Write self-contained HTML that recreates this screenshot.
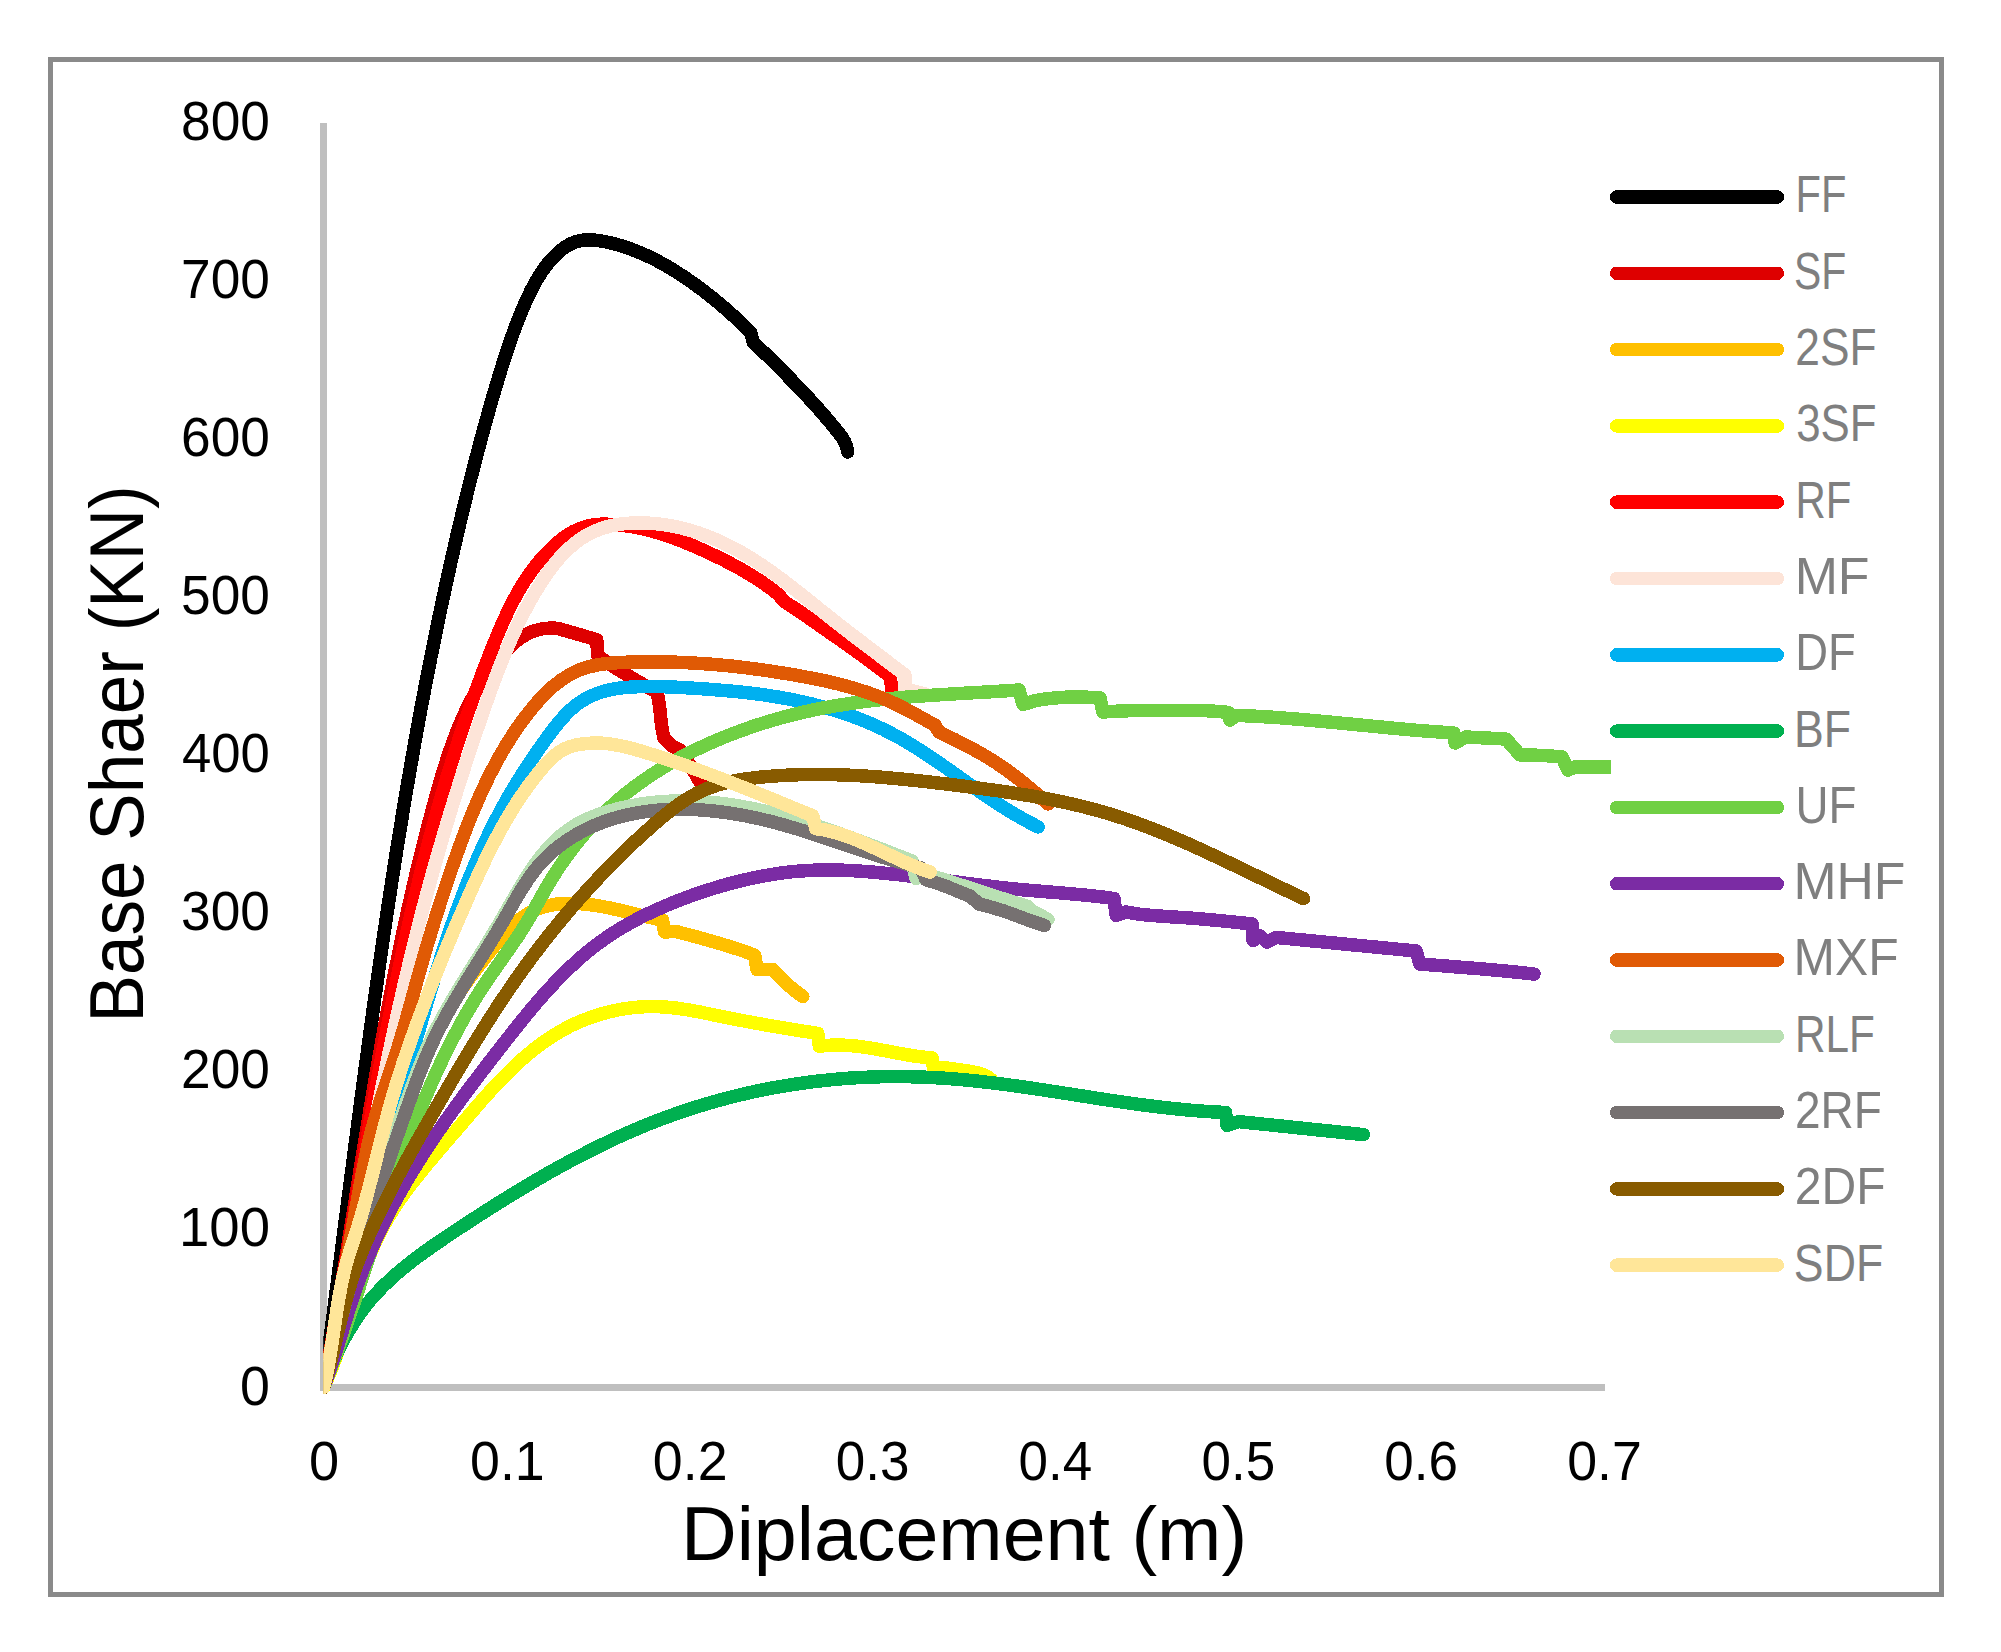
<!DOCTYPE html>
<html lang="en"><head><meta charset="utf-8"><title>Base Shaer (KN) - Diplacement (m)</title>
<style>
html,body{margin:0;padding:0;background:#fff}
svg{display:block}
text{font-family:"Liberation Sans",sans-serif}
.tick{font-size:55px;fill:#000}
.leg{font-size:51px;fill:#7f7f7f}
.ttl{font-size:76px;fill:#000}
.c{fill:none;stroke-width:13.5;stroke-linecap:round;stroke-linejoin:round}
</style></head>
<body>
<svg width="2001" height="1652" viewBox="0 0 2001 1652">
<rect x="0" y="0" width="2001" height="1652" fill="#fff"/>
<rect x="50.5" y="59.5" width="1891" height="1535" fill="none" stroke="#8a8a8a" stroke-width="5"/>
<rect x="320" y="123" width="7" height="1268" fill="#bfbfbf"/>
<rect x="320" y="1384" width="1285" height="7" fill="#bfbfbf"/>
<defs><clipPath id="pc"><rect x="323.2" y="100" width="1287.8" height="1300"/></clipPath></defs>
<g clip-path="url(#pc)" shape-rendering="crispEdges">
<path class="c" stroke="#000000" d="M323.5 1387.5C324.5 1380.3 325.4 1373.2 326.4 1366.0C327.3 1358.8 328.3 1351.6 329.2 1344.5C330.2 1337.3 331.1 1330.1 332.1 1322.9C333.0 1315.8 333.9 1308.6 334.9 1301.4C335.8 1294.2 336.7 1287.0 337.7 1279.9C338.6 1272.7 339.5 1265.5 340.5 1258.3C341.4 1251.1 342.3 1244.0 343.2 1236.8C344.2 1229.6 345.1 1222.4 346.0 1215.2C346.9 1208.0 347.9 1200.9 348.8 1193.7C349.7 1186.5 350.6 1179.3 351.6 1172.1C352.5 1165.0 353.4 1157.8 354.4 1150.6C355.3 1143.4 356.2 1136.2 357.2 1129.0C358.1 1121.9 359.1 1114.7 360.0 1107.5C360.9 1100.3 361.9 1093.1 362.8 1086.0C363.8 1078.8 364.8 1071.6 365.7 1064.4C366.7 1057.3 367.7 1050.1 368.6 1042.9C369.6 1035.7 370.6 1028.5 371.6 1021.4C372.5 1014.2 373.5 1007.0 374.5 999.9C375.5 992.7 376.5 985.5 377.6 978.3C378.6 971.2 379.6 964.0 380.6 956.8C381.7 949.7 382.7 942.5 383.7 935.3C384.8 928.2 385.9 921.0 386.9 913.9C388.0 906.7 389.1 899.5 390.2 892.4C391.2 885.2 392.3 878.1 393.5 870.9C394.6 863.8 395.7 856.6 396.8 849.5C398.0 842.3 399.1 835.2 400.3 828.0C401.4 820.9 402.6 813.8 403.8 806.6C405.0 799.5 406.2 792.3 407.4 785.2C408.6 778.1 409.8 770.9 411.1 763.8C412.3 756.7 413.6 749.5 414.8 742.4C416.1 735.3 417.4 728.2 418.7 721.1C420.0 713.9 421.3 706.8 422.7 699.7C424.0 692.6 425.3 685.5 426.7 678.4C428.1 671.3 429.5 664.2 430.9 657.1C432.3 650.0 433.7 642.9 435.2 635.8C436.6 628.7 438.1 621.6 439.6 614.5C441.0 607.4 442.5 600.4 444.1 593.3C445.6 586.2 447.1 579.1 448.7 572.1C450.3 565.0 451.8 557.9 453.5 550.9C455.1 543.8 456.7 536.7 458.3 529.7C460.0 522.6 461.7 515.6 463.4 508.5C465.1 501.5 466.8 494.4 468.5 487.4C470.3 480.4 472.1 473.3 473.9 466.3C475.7 459.3 477.5 452.3 479.4 445.3C481.2 438.3 483.1 431.3 485.1 424.3C487.0 417.3 489.0 410.4 490.9 403.4C492.9 396.5 495.0 389.5 497.1 382.6C499.1 375.7 501.2 368.8 503.4 361.9C505.6 355.0 507.8 348.1 510.2 341.3C512.6 334.5 515.1 327.7 517.7 320.9C520.3 314.2 523.1 307.5 526.1 300.9C529.1 294.3 532.3 287.7 535.9 281.3C539.5 275.0 543.5 268.9 548.0 263.3C552.6 257.7 557.8 252.4 563.8 248.0C569.7 243.7 576.3 240.9 583.3 240.2C590.2 239.4 597.5 240.1 604.7 241.6C611.9 243.0 619.0 244.9 625.9 247.2C632.7 249.6 639.5 252.3 646.1 255.3C652.7 258.3 659.1 261.7 665.4 265.3C671.7 268.9 677.9 272.8 683.9 276.8C689.9 280.8 695.8 285.0 701.6 289.3C707.3 293.7 712.9 298.2 718.5 302.8C724.0 307.4 729.4 312.2 734.8 317.1C740.1 322.0 745.3 327.0 750.5 332.2L753.2 342.0C758.4 347.1 763.6 352.1 768.8 357.2C774.0 362.3 779.1 367.4 784.2 372.6C789.3 377.7 794.4 383.0 799.4 388.2C804.4 393.5 809.4 398.8 814.3 404.2C819.1 409.6 823.9 415.0 828.6 420.6C833.3 426.1 837.8 431.8 842.3 437.5C843.8 439.9 845.1 442.4 846.0 445.0C846.7 447.2 847.4 449.6 847.7 452.0"/>
<path class="c" stroke="#DE0000" d="M323.5 1387.5C324.8 1380.4 326.1 1373.2 327.4 1366.1C328.7 1359.0 330.0 1351.9 331.2 1344.7C332.5 1337.6 333.7 1330.5 334.9 1323.3C336.1 1316.2 337.4 1309.1 338.6 1302.0C339.8 1294.8 340.9 1287.7 342.1 1280.6C343.3 1273.4 344.5 1266.3 345.7 1259.2C346.8 1252.1 348.0 1244.9 349.1 1237.8C350.3 1230.7 351.5 1223.5 352.6 1216.4C353.8 1209.3 354.9 1202.2 356.1 1195.0C357.2 1187.9 358.4 1180.8 359.5 1173.7C360.7 1166.6 361.8 1159.4 363.0 1152.3C364.1 1145.2 365.3 1138.1 366.5 1131.0C367.7 1123.8 368.8 1116.7 370.0 1109.6C371.2 1102.5 372.4 1095.4 373.6 1088.3C374.8 1081.2 376.1 1074.1 377.3 1067.0C378.5 1059.8 379.8 1052.7 381.1 1045.6C382.3 1038.5 383.6 1031.4 384.9 1024.3C386.2 1017.3 387.5 1010.2 388.9 1003.1C390.2 996.0 391.6 988.9 392.9 981.8C394.3 974.7 395.7 967.6 397.2 960.6C398.6 953.5 400.0 946.4 401.5 939.3C403.0 932.2 404.5 925.2 406.1 918.1C407.6 911.0 409.2 904.0 410.8 896.9C412.4 889.9 414.0 882.8 415.6 875.8C417.3 868.7 419.0 861.7 420.7 854.6C422.5 847.6 424.2 840.5 426.1 833.5C427.9 826.5 429.7 819.4 431.6 812.4C433.5 805.4 435.4 798.3 437.4 791.3C439.3 784.3 441.4 777.3 443.5 770.4C445.6 763.4 447.9 756.5 450.2 749.7C452.6 742.8 455.1 736.0 457.8 729.4C460.5 722.7 463.3 716.1 466.4 709.7C469.5 703.2 472.8 696.9 476.4 690.7C479.9 684.6 483.8 678.5 487.9 672.7C492.0 666.9 496.5 661.2 501.3 655.8C506.0 650.3 511.2 645.1 516.8 640.7C522.4 636.3 528.6 632.7 535.4 630.5C542.2 628.3 549.6 627.5 557.7 628.4L596.7 639.6L597.8 656.0C613.2 666.9 629.3 676.6 645.6 685.9C649.3 688.0 653.2 690.0 657.0 692.0C658.2 698.0 659.3 704.0 660.0 710.0C660.6 715.0 660.8 720.0 661.5 725.0C662.1 729.4 663.0 733.7 664.0 738.0L672.0 746.0L680.0 750.0C682.7 754.0 685.4 757.9 688.0 762.0C692.2 768.6 696.2 775.2 700.0 782.0"/>
<path class="c" stroke="#FFC000" d="M323.5 1387.5C325.4 1380.7 327.4 1373.8 329.3 1367.0C331.2 1360.1 333.1 1353.3 335.0 1346.4C336.8 1339.6 338.7 1332.7 340.6 1325.8C342.4 1318.9 344.3 1312.0 346.1 1305.2C348.0 1298.3 349.9 1291.4 351.7 1284.5C353.6 1277.6 355.5 1270.7 357.3 1263.9C359.2 1257.0 361.1 1250.1 363.0 1243.2C364.9 1236.3 366.9 1229.5 368.8 1222.6C370.8 1215.7 372.8 1208.9 374.8 1202.1C376.8 1195.2 378.8 1188.4 380.9 1181.6C383.0 1174.7 385.1 1167.9 387.2 1161.1C389.4 1154.3 391.6 1147.6 393.8 1140.8C396.0 1134.0 398.3 1127.3 400.7 1120.6C403.0 1113.9 405.4 1107.2 407.8 1100.5C410.3 1093.8 412.8 1087.2 415.4 1080.5C418.0 1073.9 420.7 1067.4 423.5 1060.8C426.3 1054.3 429.2 1047.9 432.2 1041.4C435.3 1035.0 438.5 1028.7 441.8 1022.5C445.1 1016.2 448.6 1010.0 452.3 1003.9C456.0 997.8 459.8 991.9 463.9 986.0C468.0 980.1 472.3 974.3 476.7 968.6C481.1 962.8 485.6 957.1 490.1 951.3C494.7 945.6 499.3 939.8 504.1 934.4C508.9 929.0 513.9 923.9 519.4 919.6C524.8 915.3 530.6 911.8 536.9 909.2C543.2 906.7 549.9 905.0 556.8 904.1C563.7 903.3 570.8 903.1 577.9 903.5C585.1 903.9 592.3 904.8 599.4 906.0C606.6 907.3 613.8 908.8 620.9 910.5C628.0 912.1 635.1 913.9 642.0 915.6C648.9 917.2 655.7 918.8 662.4 920.0L664.6 932.0L675.0 931.3C690.1 935.0 705.1 939.1 720.0 943.6C730.1 946.6 740.2 949.7 750.0 953.4C751.6 954.0 753.1 954.7 754.7 955.3L757.0 969.6L772.7 969.6C777.4 974.9 782.4 979.9 787.7 984.6C792.5 988.9 797.5 992.9 802.8 996.6"/>
<path class="c" stroke="#FFFF00" d="M323.5 1387.5C326.6 1381.1 329.4 1374.5 332.0 1367.8C334.7 1361.1 337.1 1354.2 339.5 1347.2C341.8 1340.3 344.1 1333.2 346.3 1326.2C348.5 1319.1 350.6 1312.0 352.8 1304.8C355.0 1297.7 357.2 1290.6 359.6 1283.6C361.9 1276.5 364.3 1269.6 366.9 1262.7C369.5 1255.8 372.3 1249.0 375.3 1242.4C378.3 1235.8 381.6 1229.4 385.1 1223.1C388.6 1216.9 392.4 1210.8 396.4 1204.8C400.4 1198.8 404.6 1193.0 408.9 1187.2C413.3 1181.5 417.8 1175.8 422.4 1170.2C427.0 1164.5 431.7 1159.0 436.4 1153.4C441.2 1147.8 446.0 1142.2 450.8 1136.6C455.6 1131.0 460.4 1125.4 465.3 1119.8C470.1 1114.1 474.9 1108.5 479.8 1102.9C484.7 1097.3 489.6 1091.8 494.7 1086.4C499.7 1081.0 504.8 1075.7 510.1 1070.6C515.3 1065.5 520.6 1060.5 526.1 1055.8C531.7 1051.1 537.3 1046.6 543.2 1042.4C549.0 1038.2 555.0 1034.3 561.3 1030.8C567.6 1027.2 574.1 1024.0 580.7 1021.2C587.4 1018.4 594.3 1016.0 601.3 1013.9C608.4 1011.9 615.5 1010.3 622.7 1009.0C630.0 1007.8 637.3 1007.1 644.6 1006.7C651.9 1006.4 659.2 1006.6 666.5 1007.1C673.8 1007.7 681.0 1008.7 688.3 1009.9C695.5 1011.1 702.7 1012.6 709.9 1014.1C717.1 1015.6 724.3 1017.0 731.5 1018.5C738.7 1019.9 745.8 1021.3 753.0 1022.6C760.2 1023.9 767.4 1025.2 774.5 1026.5C781.7 1027.7 788.9 1028.9 796.1 1030.0C803.3 1031.2 810.5 1032.3 817.8 1033.4L819.3 1046.2C825.6 1045.3 831.9 1045.0 838.2 1045.0C844.5 1045.1 850.8 1045.5 857.0 1046.2C863.3 1047.0 869.5 1047.9 875.8 1049.0C882.0 1050.1 888.2 1051.3 894.5 1052.5C900.7 1053.7 907.0 1054.8 913.2 1055.8C919.5 1056.8 925.7 1057.5 932.0 1058.0L933.3 1067.0C945.7 1067.4 957.9 1069.4 970.0 1071.4C974.7 1072.2 979.7 1073.2 984.0 1074.8C986.8 1075.9 989.3 1077.9 991.7 1080.0"/>
<path class="c" stroke="#FF0000" d="M323.5 1387.5C324.9 1380.4 326.2 1373.3 327.5 1366.2C328.9 1359.1 330.2 1352.0 331.5 1344.9C332.8 1337.8 334.1 1330.7 335.3 1323.6C336.6 1316.4 337.9 1309.3 339.1 1302.2C340.4 1295.1 341.6 1288.0 342.9 1280.9C344.1 1273.7 345.3 1266.6 346.6 1259.5C347.8 1252.4 349.0 1245.3 350.2 1238.1C351.4 1231.0 352.6 1223.9 353.8 1216.8C355.1 1209.7 356.3 1202.5 357.5 1195.4C358.7 1188.3 359.9 1181.2 361.1 1174.1C362.3 1166.9 363.5 1159.8 364.8 1152.7C366.0 1145.6 367.2 1138.5 368.4 1131.4C369.7 1124.3 370.9 1117.1 372.2 1110.0C373.4 1102.9 374.7 1095.8 376.0 1088.7C377.2 1081.6 378.5 1074.5 379.8 1067.4C381.1 1060.3 382.4 1053.2 383.8 1046.2C385.1 1039.1 386.4 1032.0 387.8 1024.9C389.2 1017.8 390.6 1010.8 392.0 1003.7C393.4 996.6 394.8 989.5 396.2 982.5C397.7 975.4 399.1 968.4 400.6 961.3C402.1 954.3 403.6 947.2 405.2 940.2C406.7 933.2 408.3 926.1 409.9 919.1C411.5 912.1 413.1 905.0 414.8 898.0C416.4 891.0 418.1 884.0 419.8 877.0C421.6 870.0 423.3 863.0 425.1 856.1C426.9 849.1 428.7 842.1 430.6 835.1C432.5 828.2 434.4 821.2 436.3 814.3C438.2 807.3 440.2 800.4 442.2 793.4C444.3 786.5 446.3 779.6 448.4 772.7C450.5 765.8 452.7 758.9 454.9 752.0C457.1 745.1 459.3 738.2 461.6 731.3C463.9 724.4 466.3 717.6 468.6 710.7C471.0 703.9 473.5 697.0 476.0 690.2C478.5 683.4 481.0 676.6 483.6 669.8C486.2 662.9 488.9 656.2 491.6 649.4C494.3 642.6 497.1 635.8 499.9 629.1C502.8 622.4 505.8 615.8 509.0 609.3C512.2 602.8 515.5 596.4 519.1 590.2C522.7 584.0 526.6 578.0 530.7 572.2C534.8 566.5 539.2 560.9 544.0 555.7C548.8 550.5 554.0 545.5 559.5 541.0C565.1 536.5 571.0 532.5 577.5 529.6C583.9 526.7 590.8 524.9 598.1 524.4C605.3 523.9 612.8 524.3 620.0 525.0C627.3 525.8 634.5 527.0 641.6 528.5C648.7 530.1 655.8 532.0 662.7 534.3C669.7 536.5 676.5 539.0 683.3 541.7C690.0 544.4 696.7 547.3 703.3 550.3C709.9 553.3 716.4 556.4 722.7 559.5C729.1 562.7 735.4 566.0 741.6 569.6C747.8 573.1 753.9 576.8 759.9 580.8C765.9 584.8 771.8 589.1 777.6 593.8L785.0 602.0C790.0 605.3 795.0 608.5 800.0 611.9C807.6 617.0 815.1 622.3 822.6 627.6C835.1 636.3 847.7 644.9 860.0 653.9C870.1 661.2 880.1 668.8 890.0 676.4L892.0 690.0"/>
<path class="c" stroke="#FDE4D8" d="M323.5 1387.5C325.0 1380.3 326.5 1373.2 327.9 1366.0C329.4 1358.9 330.8 1351.7 332.3 1344.5C333.7 1337.4 335.1 1330.2 336.5 1323.0C337.9 1315.8 339.3 1308.7 340.7 1301.5C342.1 1294.3 343.5 1287.2 344.8 1280.0C346.2 1272.8 347.6 1265.6 349.0 1258.4C350.3 1251.3 351.7 1244.1 353.0 1236.9C354.4 1229.7 355.8 1222.6 357.1 1215.4C358.5 1208.2 359.8 1201.0 361.2 1193.8C362.6 1186.7 363.9 1179.5 365.3 1172.3C366.7 1165.1 368.1 1158.0 369.4 1150.8C370.8 1143.6 372.2 1136.5 373.6 1129.3C375.0 1122.1 376.5 1115.0 377.9 1107.8C379.3 1100.6 380.7 1093.5 382.2 1086.3C383.7 1079.2 385.1 1072.0 386.6 1064.9C388.1 1057.7 389.6 1050.6 391.1 1043.4C392.6 1036.3 394.2 1029.2 395.7 1022.0C397.3 1014.9 398.9 1007.8 400.5 1000.6C402.1 993.5 403.7 986.4 405.4 979.3C407.1 972.2 408.8 965.1 410.5 958.0C412.2 950.9 413.9 943.8 415.7 936.7C417.5 929.6 419.3 922.5 421.1 915.4C422.9 908.4 424.8 901.3 426.7 894.2C428.6 887.2 430.6 880.1 432.5 873.1C434.5 866.0 436.5 859.0 438.5 852.0C440.5 845.0 442.6 837.9 444.7 830.9C446.8 823.9 448.9 816.9 451.0 809.9C453.2 802.9 455.3 796.0 457.5 789.0C459.7 782.0 462.0 775.1 464.2 768.1C466.5 761.2 468.8 754.2 471.1 747.3C473.4 740.4 475.7 733.4 478.1 726.5C480.4 719.6 482.8 712.8 485.2 705.9C487.6 699.0 490.1 692.1 492.6 685.3C495.1 678.5 497.7 671.6 500.3 664.9C503.0 658.1 505.8 651.4 508.7 644.7C511.6 638.0 514.6 631.3 517.7 624.7C520.9 618.1 524.3 611.6 527.8 605.1C531.3 598.7 535.0 592.3 539.0 586.0C542.9 579.7 547.1 573.5 551.6 567.6C556.1 561.7 560.8 556.1 566.0 551.1C571.1 546.0 576.6 541.5 582.5 537.6C588.5 533.8 594.9 530.7 601.7 528.4C608.5 526.1 615.7 524.7 623.1 523.8C630.4 522.9 637.9 522.7 645.4 523.0C652.8 523.2 660.2 524.0 667.4 525.2C674.7 526.3 681.8 527.9 688.8 529.9C695.8 531.9 702.7 534.3 709.5 537.0C716.3 539.6 722.9 542.7 729.4 546.0C735.9 549.2 742.3 552.8 748.5 556.6C754.7 560.4 760.8 564.4 766.8 568.5C772.8 572.7 778.7 577.0 784.5 581.4C790.3 585.9 796.1 590.4 801.8 594.9C807.5 599.5 813.1 604.0 818.8 608.6C824.5 613.1 830.1 617.6 835.8 622.1C841.5 626.5 847.1 630.9 852.8 635.3C858.5 639.7 864.3 644.0 870.0 648.4C875.8 652.7 881.6 657.1 887.4 661.6C893.2 666.0 899.1 670.4 905.0 675.0L905.0 689.0L925.0 694.0"/>
<path class="c" stroke="#00B0F0" d="M323.5 1387.5C325.4 1380.5 327.3 1373.6 329.2 1366.6C331.1 1359.6 333.0 1352.6 334.9 1345.6C336.8 1338.7 338.6 1331.7 340.5 1324.7C342.3 1317.7 344.2 1310.7 346.0 1303.7C347.8 1296.7 349.6 1289.7 351.5 1282.8C353.3 1275.8 355.1 1268.8 356.9 1261.8C358.7 1254.8 360.5 1247.8 362.3 1240.8C364.1 1233.8 365.9 1226.8 367.7 1219.8C369.5 1212.9 371.4 1205.9 373.2 1198.9C375.0 1191.9 376.8 1184.9 378.6 1177.9C380.4 1170.9 382.3 1163.9 384.1 1157.0C385.9 1150.0 387.8 1143.0 389.6 1136.0C391.5 1129.1 393.3 1122.1 395.2 1115.1C397.1 1108.1 399.0 1101.2 400.9 1094.2C402.8 1087.2 404.7 1080.3 406.6 1073.3C408.6 1066.4 410.5 1059.4 412.5 1052.5C414.5 1045.5 416.4 1038.6 418.5 1031.6C420.5 1024.7 422.5 1017.7 424.6 1010.8C426.6 1003.9 428.7 997.0 430.8 990.0C432.9 983.1 435.0 976.2 437.2 969.3C439.4 962.4 441.6 955.5 443.8 948.6C446.1 941.8 448.4 934.9 450.7 928.1C453.1 921.2 455.5 914.4 458.0 907.6C460.4 900.9 463.0 894.1 465.6 887.4C468.2 880.7 470.9 874.0 473.7 867.4C476.5 860.7 479.4 854.1 482.4 847.6C485.4 841.0 488.5 834.5 491.7 828.1C494.9 821.6 498.2 815.2 501.6 808.9C505.1 802.6 508.6 796.3 512.3 790.1C516.0 783.9 519.8 777.7 523.7 771.6C527.7 765.5 531.7 759.5 535.8 753.5C540.0 747.5 544.2 741.5 548.6 735.5C552.9 729.6 557.4 723.8 562.2 718.4C567.0 713.0 572.1 708.0 577.7 703.8C583.3 699.7 589.4 696.4 595.9 693.9C602.4 691.3 609.3 689.6 616.4 688.5C623.6 687.5 630.9 687.0 638.3 686.7C645.6 686.5 653.0 686.5 660.3 686.6C667.6 686.8 675.0 687.1 682.2 687.5C689.5 687.9 696.8 688.4 704.0 688.9C711.2 689.5 718.3 690.0 725.5 690.6C732.6 691.2 739.8 691.9 746.9 692.7C754.0 693.5 761.2 694.4 768.3 695.5C775.4 696.6 782.6 697.8 789.7 699.2C796.8 700.6 803.9 702.1 810.9 703.8C818.0 705.5 825.0 707.4 831.9 709.5C838.9 711.6 845.7 713.9 852.5 716.3C859.3 718.8 866.0 721.5 872.6 724.4C879.2 727.3 885.7 730.4 892.1 733.8C898.4 737.1 904.7 740.7 910.8 744.4C917.0 748.2 923.0 752.1 929.0 756.1C935.0 760.1 941.0 764.2 946.9 768.3C952.8 772.5 958.7 776.7 964.6 780.9C970.6 785.1 976.5 789.3 982.4 793.4C988.4 797.5 994.4 801.6 1000.5 805.5C1006.5 809.4 1012.7 813.2 1019.0 816.7C1025.2 820.3 1031.6 823.7 1038.1 826.9"/>
<path class="c" stroke="#00B050" d="M323.5 1387.5C325.8 1380.4 328.4 1373.5 331.1 1366.7C333.9 1359.9 336.9 1353.2 340.1 1346.7C343.4 1340.2 346.8 1333.9 350.6 1327.8C354.3 1321.7 358.3 1315.7 362.5 1310.1C366.7 1304.4 371.2 1298.9 376.0 1293.7C380.8 1288.5 385.8 1283.5 391.0 1278.8C396.2 1274.0 401.6 1269.4 407.2 1265.0C412.8 1260.5 418.5 1256.2 424.4 1252.0C430.2 1247.8 436.1 1243.7 442.1 1239.7C448.1 1235.6 454.2 1231.6 460.2 1227.6C466.3 1223.6 472.4 1219.7 478.5 1215.7C484.6 1211.8 490.7 1207.9 496.8 1204.0C503.0 1200.2 509.2 1196.3 515.4 1192.6C521.6 1188.8 527.8 1185.1 534.1 1181.4C540.3 1177.7 546.6 1174.1 552.9 1170.5C559.3 1167.0 565.6 1163.5 572.0 1160.1C578.4 1156.7 584.8 1153.4 591.3 1150.1C597.7 1146.9 604.2 1143.7 610.7 1140.6C617.2 1137.5 623.8 1134.6 630.4 1131.7C637.0 1128.8 643.6 1126.0 650.3 1123.3C657.0 1120.7 663.7 1118.1 670.5 1115.7C677.3 1113.2 684.1 1110.9 690.9 1108.7C697.8 1106.5 704.6 1104.4 711.6 1102.4C718.5 1100.4 725.4 1098.5 732.4 1096.8C739.4 1095.0 746.4 1093.4 753.4 1091.8C760.4 1090.3 767.5 1088.9 774.6 1087.6C781.7 1086.3 788.8 1085.1 795.9 1084.1C803.0 1083.0 810.1 1082.0 817.3 1081.2C824.5 1080.4 831.6 1079.6 838.8 1079.0C846.0 1078.4 853.2 1077.9 860.4 1077.5C867.5 1077.2 874.7 1076.9 881.9 1076.7C889.2 1076.6 896.4 1076.5 903.6 1076.6C910.8 1076.7 918.0 1076.9 925.2 1077.2C932.4 1077.5 939.5 1077.9 946.7 1078.4C953.9 1078.9 961.1 1079.5 968.3 1080.2C975.4 1080.9 982.6 1081.7 989.8 1082.6C996.9 1083.4 1004.1 1084.3 1011.2 1085.3C1018.4 1086.3 1025.5 1087.3 1032.7 1088.3C1039.8 1089.4 1047.0 1090.5 1054.1 1091.6C1061.2 1092.7 1068.4 1093.8 1075.5 1094.9C1082.7 1096.0 1089.8 1097.2 1096.9 1098.3C1104.1 1099.4 1111.2 1100.5 1118.4 1101.5C1125.5 1102.5 1132.6 1103.6 1139.8 1104.5C1146.9 1105.5 1154.1 1106.4 1161.2 1107.2C1168.4 1108.1 1175.5 1108.8 1182.7 1109.5C1189.8 1110.2 1197.0 1110.8 1204.1 1111.3C1211.3 1111.8 1218.4 1112.2 1225.6 1112.5L1227.0 1125.5L1238.6 1121.6L1363.4 1134.6"/>
<path class="c" stroke="#70D044" d="M323.5 1387.5C326.2 1380.8 328.8 1374.0 331.3 1367.3C333.9 1360.5 336.4 1353.7 338.8 1346.8C341.3 1340.0 343.7 1333.2 346.0 1326.3C348.4 1319.5 350.7 1312.6 353.0 1305.7C355.3 1298.8 357.6 1291.9 359.9 1285.0C362.2 1278.1 364.4 1271.1 366.6 1264.2C368.9 1257.3 371.1 1250.4 373.4 1243.5C375.6 1236.5 377.9 1229.6 380.1 1222.7C382.4 1215.8 384.6 1208.9 386.9 1202.0C389.2 1195.1 391.6 1188.2 393.9 1181.3C396.3 1174.4 398.7 1167.6 401.1 1160.7C403.5 1153.9 406.0 1147.1 408.5 1140.3C411.1 1133.5 413.6 1126.7 416.3 1120.0C418.9 1113.2 421.7 1106.5 424.4 1099.8C427.2 1093.1 430.1 1086.5 433.0 1079.9C436.0 1073.3 439.0 1066.7 442.1 1060.2C445.2 1053.6 448.4 1047.1 451.7 1040.7C455.1 1034.3 458.5 1027.9 462.0 1021.5C465.5 1015.2 469.2 1008.9 473.0 1002.7C476.7 996.5 480.6 990.3 484.6 984.3C488.7 978.3 492.8 972.3 497.0 966.4C501.2 960.4 505.4 954.5 509.5 948.6C513.7 942.6 517.8 936.6 521.7 930.5C525.6 924.4 529.3 918.2 532.9 911.9C536.4 905.6 539.9 899.2 543.4 892.8C547.0 886.5 550.7 880.3 554.7 874.1C558.6 868.0 562.6 862.0 566.9 856.2C571.2 850.3 575.6 844.6 580.2 839.0C584.8 833.4 589.6 828.0 594.5 822.7C599.5 817.5 604.6 812.4 609.9 807.5C615.1 802.6 620.6 797.9 626.2 793.3C631.9 788.8 637.6 784.5 643.6 780.3C649.5 776.2 655.6 772.2 661.7 768.4C667.9 764.6 674.2 761.0 680.6 757.5C687.0 754.1 693.5 750.8 700.1 747.7C706.7 744.6 713.4 741.6 720.1 738.8C726.8 736.0 733.6 733.4 740.4 730.9C747.2 728.4 754.1 726.0 761.0 723.8C767.9 721.6 774.9 719.5 781.9 717.6C788.8 715.7 795.9 713.9 802.9 712.3C810.0 710.7 817.1 709.2 824.2 707.8C831.3 706.5 838.4 705.3 845.5 704.2C852.7 703.1 859.9 702.1 867.1 701.2C874.2 700.3 881.4 699.5 888.7 698.8C895.9 698.1 903.1 697.4 910.3 696.8C917.6 696.3 924.8 695.7 932.1 695.3C939.3 694.8 946.6 694.3 953.8 693.9C961.1 693.5 968.3 693.0 975.6 692.6C982.8 692.2 990.1 691.8 997.3 691.4C1004.5 690.9 1011.8 690.5 1019.0 690.0L1023.0 704.5L1036.0 700.4C1049.0 698.3 1062.0 697.0 1075.0 697.0C1083.3 697.0 1091.7 697.3 1100.0 698.0L1102.7 712.0C1115.1 711.3 1127.6 710.5 1140.0 710.5C1160.0 710.5 1180.0 710.5 1200.0 710.5C1209.3 710.5 1218.7 711.6 1228.0 712.4L1230.0 720.0L1237.0 715.4C1244.3 715.7 1251.5 716.0 1258.7 716.4C1266.0 716.8 1273.2 717.3 1280.5 717.8C1287.7 718.4 1294.9 718.9 1302.2 719.6C1309.4 720.2 1316.6 720.8 1323.9 721.5C1331.1 722.2 1338.3 722.9 1345.5 723.6C1352.8 724.3 1360.0 725.0 1367.2 725.7C1374.5 726.4 1381.7 727.1 1388.9 727.8C1396.1 728.5 1403.4 729.1 1410.6 729.8C1417.8 730.4 1425.1 731.0 1432.3 731.5C1439.5 732.1 1446.8 732.6 1454.0 733.0L1455.0 743.0L1466.0 737.0L1506.0 739.0L1520.0 755.0C1522.0 755.0 1524.0 755.0 1526.0 755.0C1538.0 755.0 1550.0 755.8 1562.0 757.0L1568.0 770.0L1575.0 767.0L1620.0 767.0"/>
<path class="c" stroke="#7B2CA4" d="M323.5 1387.5C326.1 1380.8 328.5 1374.0 330.8 1367.1C333.2 1360.3 335.4 1353.4 337.5 1346.5C339.7 1339.6 341.8 1332.7 343.9 1325.7C346.1 1318.8 348.2 1311.9 350.4 1305.0C352.7 1298.1 355.0 1291.2 357.4 1284.4C359.8 1277.6 362.4 1270.9 365.1 1264.2C367.9 1257.5 370.7 1250.9 373.7 1244.3C376.6 1237.7 379.7 1231.2 382.9 1224.7C386.1 1218.3 389.4 1211.9 392.9 1205.5C396.3 1199.2 399.8 1192.9 403.4 1186.6C407.0 1180.4 410.7 1174.2 414.5 1168.1C418.3 1161.9 422.1 1155.8 426.1 1149.8C430.0 1143.8 434.0 1137.8 438.1 1131.9C442.1 1125.9 446.3 1120.0 450.4 1114.2C454.6 1108.3 458.9 1102.5 463.1 1096.6C467.4 1090.8 471.8 1085.0 476.1 1079.3C480.5 1073.5 484.9 1067.7 489.3 1062.0C493.8 1056.2 498.2 1050.5 502.7 1044.8C507.2 1039.0 511.7 1033.3 516.2 1027.6C520.8 1021.9 525.4 1016.2 530.0 1010.6C534.7 1005.0 539.4 999.5 544.2 994.1C549.1 988.7 554.0 983.4 559.0 978.2C564.0 973.0 569.2 968.0 574.5 963.2C579.7 958.3 585.2 953.7 590.7 949.2C596.3 944.8 602.1 940.5 608.0 936.5C613.9 932.5 620.0 928.7 626.2 925.2C632.5 921.6 638.8 918.2 645.3 915.0C651.8 911.9 658.4 908.9 665.1 906.0C671.7 903.2 678.5 900.5 685.3 897.9C692.1 895.4 699.0 893.0 705.9 890.7C712.9 888.5 719.8 886.4 726.8 884.4C733.9 882.5 740.9 880.7 748.0 879.1C755.1 877.5 762.2 876.1 769.3 874.9C776.4 873.7 783.6 872.7 790.7 871.9C797.9 871.2 805.1 870.6 812.3 870.3C819.4 870.0 826.6 869.9 833.8 870.0C841.0 870.1 848.2 870.4 855.4 870.8C862.6 871.3 869.8 871.8 877.0 872.5C884.1 873.2 891.3 873.9 898.5 874.7C905.7 875.5 912.9 876.4 920.0 877.3C927.2 878.2 934.4 879.1 941.6 880.1C948.7 881.0 955.9 882.0 963.1 882.9C970.2 883.8 977.4 884.7 984.6 885.6C991.8 886.5 999.0 887.3 1006.1 888.1C1013.3 888.9 1020.5 889.6 1027.7 890.2C1034.9 890.8 1042.1 891.4 1049.3 892.0C1056.5 892.6 1063.7 893.1 1070.9 893.8C1078.1 894.4 1085.3 895.1 1092.5 895.9C1099.7 896.6 1106.8 897.5 1114.0 898.6L1116.2 915.5L1126.0 912.0C1130.7 912.8 1135.3 913.8 1140.0 914.3C1159.9 916.5 1180.0 917.1 1200.0 918.8C1217.4 920.3 1234.7 922.1 1252.0 924.0L1253.0 940.4L1260.0 936.0L1267.0 942.0L1276.0 937.4L1416.0 951.0L1420.0 964.0C1430.0 964.8 1440.0 965.6 1450.0 966.4C1463.3 967.5 1476.7 968.4 1490.0 969.6C1504.7 970.9 1519.3 972.4 1534.0 974.0"/>
<path class="c" stroke="#E05A05" d="M323.5 1387.5C324.8 1380.4 326.2 1373.4 327.5 1366.3C328.8 1359.2 330.1 1352.1 331.4 1345.0C332.7 1338.0 334.0 1330.9 335.3 1323.8C336.6 1316.7 337.9 1309.6 339.2 1302.5C340.4 1295.5 341.7 1288.4 343.0 1281.3C344.3 1274.2 345.6 1267.1 346.8 1260.0C348.1 1252.9 349.4 1245.8 350.6 1238.7C351.9 1231.7 353.2 1224.6 354.4 1217.5C355.7 1210.4 357.0 1203.3 358.2 1196.2C359.5 1189.1 360.8 1182.0 362.1 1174.9C363.4 1167.9 364.7 1160.8 366.2 1153.8C367.6 1146.7 369.2 1139.7 371.0 1132.8C372.8 1125.9 374.8 1119.0 376.9 1112.1C379.0 1105.3 381.2 1098.5 383.5 1091.6C385.7 1084.8 388.0 1078.0 390.3 1071.1C392.6 1064.3 394.9 1057.4 397.1 1050.5C399.2 1043.6 401.3 1036.7 403.4 1029.7C405.4 1022.7 407.3 1015.7 409.3 1008.7C411.2 1001.7 413.1 994.7 415.0 987.8C417.0 980.8 418.9 973.9 420.9 967.0C422.8 960.1 424.8 953.2 426.8 946.4C428.9 939.5 430.9 932.7 433.0 925.9C435.1 919.1 437.2 912.3 439.4 905.5C441.6 898.7 443.8 891.9 446.1 885.2C448.3 878.4 450.6 871.6 453.0 864.8C455.4 858.0 457.8 851.2 460.3 844.4C462.8 837.6 465.4 830.8 468.0 824.0C470.7 817.3 473.5 810.5 476.3 803.9C479.2 797.2 482.2 790.5 485.3 784.0C488.4 777.4 491.7 770.9 495.1 764.6C498.5 758.2 502.1 751.9 505.8 745.7C509.6 739.5 513.5 733.5 517.6 727.5C521.7 721.6 526.1 715.8 530.6 710.2C535.1 704.6 539.9 699.1 544.9 694.1C549.9 689.0 555.2 684.3 560.9 680.3C566.6 676.2 572.6 672.7 579.0 670.1C585.4 667.5 592.2 665.8 599.2 664.6C606.3 663.5 613.6 662.9 620.9 662.5C628.3 662.1 635.6 662.0 642.9 661.9C650.2 661.8 657.5 661.8 664.8 662.0C672.1 662.1 679.3 662.3 686.6 662.7C693.8 663.0 701.0 663.5 708.2 664.0C715.4 664.5 722.6 665.2 729.7 665.9C736.9 666.6 744.0 667.5 751.1 668.4C758.3 669.3 765.4 670.3 772.5 671.4C779.6 672.5 786.7 673.6 793.8 674.8C800.8 676.1 807.9 677.4 815.0 678.8C822.0 680.2 829.0 681.7 836.0 683.4C843.0 685.1 849.9 687.0 856.8 689.1C863.6 691.2 870.4 693.5 877.1 696.0C883.8 698.6 890.4 701.5 896.8 704.6C903.3 707.8 909.7 711.2 916.1 714.7C922.4 718.2 928.7 721.7 935.0 725.2L939.0 732.0C945.5 735.1 952.1 738.3 958.6 741.6C965.1 744.8 971.6 748.2 977.9 751.8C984.3 755.4 990.6 759.1 996.6 763.1C1002.7 767.1 1008.7 771.4 1014.5 775.8C1020.3 780.2 1026.0 784.8 1031.6 789.5C1037.2 794.2 1042.6 799.1 1048.0 804.0"/>
<path class="c" stroke="#B9E0B3" d="M323.5 1387.5C325.3 1380.5 327.0 1373.5 328.7 1366.5C330.4 1359.5 332.1 1352.4 333.8 1345.4C335.5 1338.4 337.2 1331.4 339.0 1324.4C340.7 1317.3 342.4 1310.3 344.2 1303.3C345.9 1296.3 347.7 1289.3 349.5 1282.3C351.3 1275.3 353.1 1268.4 355.0 1261.4C356.9 1254.4 358.8 1247.5 360.8 1240.5C362.8 1233.6 364.8 1226.7 366.9 1219.8C369.0 1212.9 371.1 1206.0 373.3 1199.1C375.5 1192.3 377.7 1185.4 380.0 1178.6C382.3 1171.7 384.6 1164.9 386.9 1158.0C389.2 1151.2 391.6 1144.4 393.9 1137.5C396.3 1130.7 398.7 1123.9 401.1 1117.0C403.5 1110.2 405.9 1103.4 408.4 1096.5C410.8 1089.7 413.2 1082.9 415.8 1076.1C418.3 1069.3 421.0 1062.6 423.8 1055.9C426.5 1049.3 429.5 1042.8 432.6 1036.3C435.7 1029.9 439.0 1023.5 442.4 1017.3C445.9 1011.0 449.4 1004.8 453.0 998.6C456.7 992.5 460.4 986.3 464.2 980.2C467.9 974.1 471.7 968.0 475.6 961.9C479.4 955.8 483.3 949.7 487.1 943.5C490.9 937.3 494.7 931.1 498.4 924.8C502.1 918.5 505.8 912.1 509.4 905.7C513.1 899.4 516.7 893.0 520.5 886.7C524.2 880.4 528.1 874.3 532.1 868.4C536.2 862.4 540.5 856.7 545.1 851.4C549.7 846.0 554.6 841.0 559.9 836.4C565.2 831.8 570.9 827.7 577.2 824.1C583.4 820.6 590.2 817.6 597.2 815.0C604.3 812.5 611.5 810.4 618.6 808.6C625.8 806.8 632.9 805.3 640.1 804.2C647.2 803.1 654.4 802.2 661.6 801.7C668.7 801.2 675.9 800.9 683.0 801.0C690.2 801.0 697.3 801.3 704.5 801.8C711.6 802.3 718.7 803.0 725.9 804.0C733.0 804.9 740.1 806.1 747.2 807.5C754.2 808.8 761.3 810.3 768.4 812.0C775.4 813.7 782.4 815.6 789.4 817.5C796.4 819.5 803.4 821.6 810.4 823.8C817.3 826.0 824.2 828.3 831.1 830.7C838.0 833.0 844.9 835.5 851.7 838.0C858.5 840.5 865.3 843.0 872.0 845.6C878.8 848.1 885.5 850.7 892.1 853.3C898.8 855.9 905.4 858.5 912.0 861.0L916.0 878.5L925.0 874.0C931.3 875.9 937.7 877.7 944.0 879.7C953.4 882.6 962.7 885.7 972.0 888.7C981.3 891.7 990.6 894.8 1000.0 897.8C1009.3 900.8 1018.6 903.7 1028.0 906.5L1031.0 910.5L1048.0 919.4"/>
<path class="c" stroke="#767171" d="M323.5 1387.5C325.3 1380.5 327.1 1373.5 328.9 1366.5C330.6 1359.5 332.4 1352.5 334.2 1345.5C336.0 1338.5 337.8 1331.5 339.7 1324.5C341.5 1317.5 343.3 1310.5 345.2 1303.6C347.0 1296.6 348.9 1289.6 350.8 1282.7C352.7 1275.7 354.7 1268.8 356.7 1261.8C358.7 1254.9 360.7 1248.0 362.7 1241.0C364.8 1234.1 366.9 1227.2 369.1 1220.3C371.2 1213.5 373.4 1206.6 375.7 1199.7C377.9 1192.8 380.2 1186.0 382.5 1179.1C384.8 1172.3 387.1 1165.4 389.4 1158.6C391.8 1151.8 394.1 1144.9 396.5 1138.1C398.9 1131.3 401.3 1124.5 403.7 1117.6C406.1 1110.8 408.5 1104.0 410.9 1097.2C413.3 1090.4 415.8 1083.6 418.3 1076.8C420.9 1070.0 423.5 1063.3 426.3 1056.7C429.1 1050.1 432.0 1043.5 435.1 1037.1C438.3 1030.6 441.6 1024.2 445.0 1017.9C448.4 1011.6 452.0 1005.4 455.7 999.2C459.3 993.0 463.0 986.8 466.8 980.7C470.6 974.5 474.4 968.4 478.3 962.3C482.1 956.1 486.0 950.0 489.8 943.8C493.6 937.6 497.3 931.4 501.0 925.1C504.7 918.8 508.2 912.5 511.8 906.1C515.4 899.8 519.0 893.5 522.9 887.4C526.7 881.2 530.7 875.3 535.2 869.7C539.6 864.0 544.5 858.8 549.8 853.9C555.2 849.0 560.9 844.5 566.9 840.5C573.0 836.4 579.3 832.8 585.7 829.6C592.1 826.4 598.7 823.6 605.4 821.2C612.1 818.9 619.0 816.9 625.9 815.2C632.9 813.6 639.9 812.3 647.1 811.4C654.2 810.4 661.4 809.8 668.6 809.5C675.8 809.2 683.1 809.1 690.4 809.4C697.7 809.6 705.0 810.1 712.3 810.9C719.5 811.6 726.8 812.6 734.0 813.8C741.3 814.9 748.4 816.3 755.5 817.9C762.6 819.4 769.7 821.2 776.6 823.0C783.6 824.9 790.5 826.9 797.3 829.0C804.2 831.1 811.0 833.2 817.7 835.5C824.5 837.7 831.3 840.0 838.1 842.3C844.8 844.6 851.6 846.9 858.4 849.2C865.2 851.5 872.1 853.8 878.9 856.0C885.8 858.2 892.8 860.3 899.8 862.3C906.8 864.3 913.8 866.2 921.0 868.0L926.0 879.7C932.1 881.5 938.1 883.4 944.0 885.6C950.1 887.8 956.0 890.6 962.0 893.0C964.7 894.0 967.3 895.0 970.0 896.0L979.0 904.0C986.1 905.7 993.1 907.7 1000.0 909.8C1010.1 912.9 1020.0 917.1 1030.0 920.6C1034.8 922.2 1039.5 923.8 1044.3 925.4"/>
<path class="c" stroke="#885B00" d="M323.5 1387.5C325.6 1380.6 327.5 1373.6 329.3 1366.6C331.1 1359.6 332.9 1352.5 334.6 1345.5C336.3 1338.5 338.0 1331.4 339.7 1324.4C341.5 1317.3 343.2 1310.3 345.1 1303.3C346.9 1296.4 348.9 1289.4 351.0 1282.5C353.2 1275.6 355.4 1268.8 357.9 1262.0C360.5 1255.3 363.2 1248.6 366.1 1241.9C369.0 1235.3 372.0 1228.7 375.0 1222.2C378.1 1215.6 381.2 1209.1 384.5 1202.7C387.7 1196.2 391.0 1189.8 394.3 1183.4C397.6 1176.9 401.0 1170.6 404.5 1164.2C407.9 1157.8 411.4 1151.5 414.9 1145.2C418.4 1138.9 422.0 1132.6 425.6 1126.3C429.2 1120.0 432.8 1113.7 436.4 1107.4C440.0 1101.1 443.6 1094.9 447.3 1088.6C450.9 1082.3 454.6 1076.1 458.3 1069.8C462.0 1063.6 465.7 1057.4 469.5 1051.2C473.2 1045.0 477.0 1038.8 480.9 1032.7C484.7 1026.5 488.6 1020.4 492.5 1014.3C496.4 1008.2 500.4 1002.2 504.5 996.2C508.5 990.2 512.6 984.2 516.8 978.3C520.9 972.4 525.2 966.5 529.4 960.7C533.7 954.9 538.1 949.2 542.5 943.4C546.9 937.7 551.4 932.1 556.0 926.5C560.6 920.9 565.2 915.3 569.9 909.8C574.6 904.3 579.3 898.9 584.2 893.5C589.0 888.1 593.9 882.8 598.9 877.5C603.8 872.2 608.9 867.0 614.0 861.9C619.1 856.7 624.3 851.6 629.6 846.6C634.8 841.6 640.1 836.6 645.6 831.8C651.0 826.9 656.4 822.0 662.0 817.4C667.7 812.7 673.4 808.2 679.3 804.0C685.3 799.8 691.4 796.0 697.8 792.8C704.2 789.6 710.8 787.0 717.7 785.0C724.5 782.9 731.6 781.3 738.7 780.1C745.8 778.9 753.0 778.0 760.2 777.2C767.4 776.5 774.7 775.9 781.9 775.5C789.1 775.0 796.3 774.7 803.5 774.6C810.8 774.4 818.0 774.4 825.2 774.5C832.4 774.6 839.7 774.8 846.9 775.1C854.1 775.4 861.3 775.8 868.6 776.3C875.8 776.8 883.0 777.3 890.2 778.0C897.5 778.6 904.7 779.3 911.9 780.1C919.1 780.8 926.3 781.6 933.6 782.5C940.8 783.3 948.0 784.2 955.2 785.1C962.4 786.0 969.6 786.9 976.8 787.9C984.0 788.8 991.2 789.8 998.4 790.8C1005.6 791.8 1012.7 792.9 1019.9 794.1C1027.0 795.2 1034.2 796.4 1041.3 797.7C1048.4 799.0 1055.5 800.4 1062.5 801.9C1069.6 803.4 1076.6 805.0 1083.6 806.8C1090.6 808.5 1097.6 810.4 1104.5 812.4C1111.4 814.4 1118.3 816.6 1125.1 818.9C1131.9 821.2 1138.7 823.6 1145.5 826.2C1152.3 828.8 1159.0 831.4 1165.7 834.2C1172.4 836.9 1179.0 839.8 1185.7 842.7C1192.3 845.7 1199.0 848.7 1205.5 851.7C1212.1 854.8 1218.7 857.9 1225.3 861.0C1231.8 864.1 1238.4 867.3 1244.9 870.4C1251.5 873.6 1258.0 876.8 1264.5 879.9C1271.0 883.1 1277.5 886.2 1284.0 889.3C1290.5 892.4 1297.0 895.5 1303.5 898.5"/>
<path class="c" stroke="#FFE699" d="M323.5 1387.5C325.3 1380.5 326.8 1373.5 328.1 1366.4C329.4 1359.3 330.6 1352.1 331.7 1344.9C332.8 1337.8 333.8 1330.6 334.9 1323.4C335.9 1316.2 337.0 1309.1 338.2 1301.9C339.4 1294.8 340.7 1287.7 342.2 1280.6C343.7 1273.6 345.4 1266.6 347.4 1259.7C349.4 1252.8 351.7 1246.0 354.0 1239.1C356.2 1232.3 358.4 1225.4 360.5 1218.5C362.5 1211.6 364.5 1204.7 366.4 1197.7C368.2 1190.7 370.0 1183.7 371.8 1176.7C373.6 1169.7 375.3 1162.7 377.0 1155.7C378.8 1148.6 380.5 1141.6 382.3 1134.6C384.1 1127.6 385.9 1120.6 387.8 1113.6C389.7 1106.6 391.7 1099.6 393.7 1092.7C395.8 1085.8 398.0 1078.9 400.2 1072.0C402.4 1065.1 404.7 1058.2 407.1 1051.4C409.4 1044.5 411.9 1037.7 414.3 1030.9C416.7 1024.1 419.2 1017.3 421.8 1010.6C424.3 1003.8 426.9 997.1 429.5 990.3C432.1 983.6 434.8 976.9 437.4 970.2C440.1 963.5 442.9 956.8 445.6 950.1C448.4 943.4 451.2 936.8 454.0 930.1C456.8 923.5 459.7 916.8 462.6 910.2C465.4 903.5 468.3 896.9 471.3 890.3C474.2 883.7 477.2 877.1 480.3 870.5C483.3 863.9 486.4 857.4 489.7 851.0C492.9 844.5 496.2 838.1 499.6 831.7C503.1 825.4 506.7 819.1 510.4 813.0C514.1 806.8 518.0 800.7 522.1 794.8C526.2 788.8 530.4 783.0 534.9 777.3C539.4 771.6 544.0 765.9 549.0 760.8C554.1 755.6 559.6 751.1 565.9 748.3C572.2 745.4 579.4 744.1 586.7 743.5C594.1 742.8 601.6 743.0 608.9 743.8C616.2 744.7 623.3 746.2 630.2 748.0C637.1 749.9 643.9 751.9 650.8 754.1C657.6 756.2 664.5 758.4 671.3 760.7C678.1 763.0 685.0 765.4 691.8 767.8C698.6 770.3 705.3 772.8 712.1 775.3C718.9 777.9 725.7 780.5 732.4 783.2C739.2 785.8 745.9 788.5 752.6 791.2C759.3 794.0 766.1 796.7 772.8 799.4C779.5 802.2 786.1 804.9 792.8 807.7C799.5 810.4 806.2 813.2 812.8 815.9L815.9 828.6C822.7 829.4 829.3 830.8 835.8 832.7C842.3 834.5 848.7 836.8 855.0 839.3C861.3 841.9 867.6 844.7 873.8 847.6C880.0 850.5 886.1 853.5 892.3 856.4C898.5 859.4 904.7 862.3 911.0 864.9C917.2 867.6 923.6 870.0 930.0 872.1"/>
</g>
<line x1="1616.7" y1="197.0" x2="1777.3" y2="197.0" stroke="#000000" stroke-width="13.5" stroke-linecap="round" shape-rendering="crispEdges"/>
<line x1="1616.7" y1="273.3" x2="1777.3" y2="273.3" stroke="#DE0000" stroke-width="13.5" stroke-linecap="round" shape-rendering="crispEdges"/>
<line x1="1616.7" y1="349.6" x2="1777.3" y2="349.6" stroke="#FFC000" stroke-width="13.5" stroke-linecap="round" shape-rendering="crispEdges"/>
<line x1="1616.7" y1="425.9" x2="1777.3" y2="425.9" stroke="#FFFF00" stroke-width="13.5" stroke-linecap="round" shape-rendering="crispEdges"/>
<line x1="1616.7" y1="502.2" x2="1777.3" y2="502.2" stroke="#FF0000" stroke-width="13.5" stroke-linecap="round" shape-rendering="crispEdges"/>
<line x1="1616.7" y1="578.5" x2="1777.3" y2="578.5" stroke="#FDE4D8" stroke-width="13.5" stroke-linecap="round" shape-rendering="crispEdges"/>
<line x1="1616.7" y1="654.8" x2="1777.3" y2="654.8" stroke="#00B0F0" stroke-width="13.5" stroke-linecap="round" shape-rendering="crispEdges"/>
<line x1="1616.7" y1="731.1" x2="1777.3" y2="731.1" stroke="#00B050" stroke-width="13.5" stroke-linecap="round" shape-rendering="crispEdges"/>
<line x1="1616.7" y1="807.4" x2="1777.3" y2="807.4" stroke="#70D044" stroke-width="13.5" stroke-linecap="round" shape-rendering="crispEdges"/>
<line x1="1616.7" y1="883.7" x2="1777.3" y2="883.7" stroke="#7B2CA4" stroke-width="13.5" stroke-linecap="round" shape-rendering="crispEdges"/>
<line x1="1616.7" y1="960.0" x2="1777.3" y2="960.0" stroke="#E05A05" stroke-width="13.5" stroke-linecap="round" shape-rendering="crispEdges"/>
<line x1="1616.7" y1="1036.3" x2="1777.3" y2="1036.3" stroke="#B9E0B3" stroke-width="13.5" stroke-linecap="round" shape-rendering="crispEdges"/>
<line x1="1616.7" y1="1112.6" x2="1777.3" y2="1112.6" stroke="#767171" stroke-width="13.5" stroke-linecap="round" shape-rendering="crispEdges"/>
<line x1="1616.7" y1="1188.9" x2="1777.3" y2="1188.9" stroke="#885B00" stroke-width="13.5" stroke-linecap="round" shape-rendering="crispEdges"/>
<line x1="1616.7" y1="1265.2" x2="1777.3" y2="1265.2" stroke="#FFE699" stroke-width="13.5" stroke-linecap="round" shape-rendering="crispEdges"/>
<text class="tick" transform="translate(240.04,1404.50) scale(0.9778,1)">0</text>
<text class="tick" transform="translate(179.04,1246.44) scale(0.9910,1)">100</text>
<text class="tick" transform="translate(181.06,1088.38) scale(0.9685,1)">200</text>
<text class="tick" transform="translate(181.06,930.32) scale(0.9685,1)">300</text>
<text class="tick" transform="translate(182.04,772.26) scale(0.9576,1)">400</text>
<text class="tick" transform="translate(181.06,614.20) scale(0.9685,1)">500</text>
<text class="tick" transform="translate(181.06,456.14) scale(0.9685,1)">600</text>
<text class="tick" transform="translate(181.06,298.08) scale(0.9685,1)">700</text>
<text class="tick" transform="translate(181.06,140.02) scale(0.9685,1)">800</text>
<text class="tick" transform="translate(308.93,1480.30) scale(0.9852,1)">0</text>
<text class="tick" transform="translate(470.01,1480.30) scale(0.9768,1)">0.1</text>
<text class="tick" transform="translate(652.87,1480.30) scale(0.9768,1)">0.2</text>
<text class="tick" transform="translate(835.75,1480.30) scale(0.9634,1)">0.3</text>
<text class="tick" transform="translate(1018.61,1480.30) scale(0.9634,1)">0.4</text>
<text class="tick" transform="translate(1201.47,1480.30) scale(0.9634,1)">0.5</text>
<text class="tick" transform="translate(1384.33,1480.30) scale(0.9634,1)">0.6</text>
<text class="tick" transform="translate(1567.17,1480.30) scale(0.9768,1)">0.7</text>
<text class="ttl" transform="translate(680.91,1559.60) scale(1.0158,1)">Diplacement (m)</text>
<text class="ttl" transform="translate(143.30,1022.41) rotate(-90) scale(0.9352,1)">Base Shaer (KN)</text>
<text class="leg" transform="translate(1795.43,212.40) scale(0.8171,1)">FF</text>
<text class="leg" transform="translate(1794.10,288.70) scale(0.8014,1)">SF</text>
<text class="leg" transform="translate(1795.26,365.00) scale(0.8686,1)">2SF</text>
<text class="leg" transform="translate(1796.14,441.30) scale(0.8590,1)">3SF</text>
<text class="leg" transform="translate(1795.41,517.60) scale(0.8228,1)">RF</text>
<text class="leg" transform="translate(1794.63,593.90) scale(1.0178,1)">MF</text>
<text class="leg" transform="translate(1795.14,670.20) scale(0.8897,1)">DF</text>
<text class="leg" transform="translate(1793.99,746.50) scale(0.8764,1)">BF</text>
<text class="leg" transform="translate(1795.51,822.80) scale(0.8977,1)">UF</text>
<text class="leg" transform="translate(1793.44,899.10) scale(1.0141,1)">MHF</text>
<text class="leg" transform="translate(1793.60,975.40) scale(0.9746,1)">MXF</text>
<text class="leg" transform="translate(1794.88,1051.70) scale(0.8290,1)">RLF</text>
<text class="leg" transform="translate(1794.90,1128.00) scale(0.9013,1)">2RF</text>
<text class="leg" transform="translate(1794.82,1204.30) scale(0.9421,1)">2DF</text>
<text class="leg" transform="translate(1793.85,1280.60) scale(0.8761,1)">SDF</text>
</svg>
</body></html>
